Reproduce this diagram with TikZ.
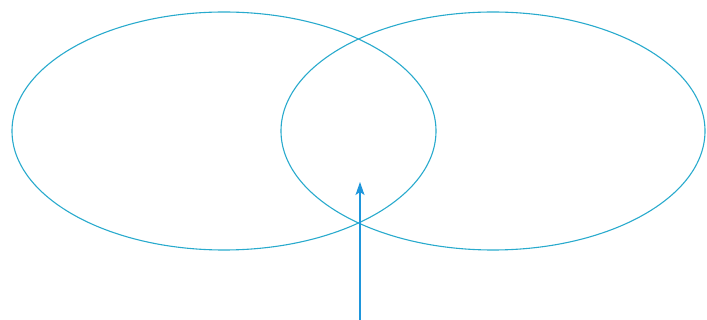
\documentclass[tikz,border=0pt]{standalone}
\usetikzlibrary{arrows.meta}
\definecolor{ell}{RGB}{40,170,205}
\definecolor{arr}{RGB}{30,150,220}
\begin{document}
\begin{tikzpicture}[x=1pt,y=-1pt,
  ring/.style={draw=ell,line width=1.1pt},
  pointer/.style={draw=arr,line width=1.2pt,-{Stealth[length=13pt,width=9pt,inset=3pt]}}]
\useasboundingbox (0,0) rectangle (707,320);
\draw[ring] (224,131) ellipse [x radius=212,y radius=119];
\draw[ring] (493,131) ellipse [x radius=212,y radius=119];
\coordinate (tail) at (360,320);
\coordinate (tip) at (360,182);
\draw[pointer] (tail) -- (tip);
\end{tikzpicture}
\end{document}
